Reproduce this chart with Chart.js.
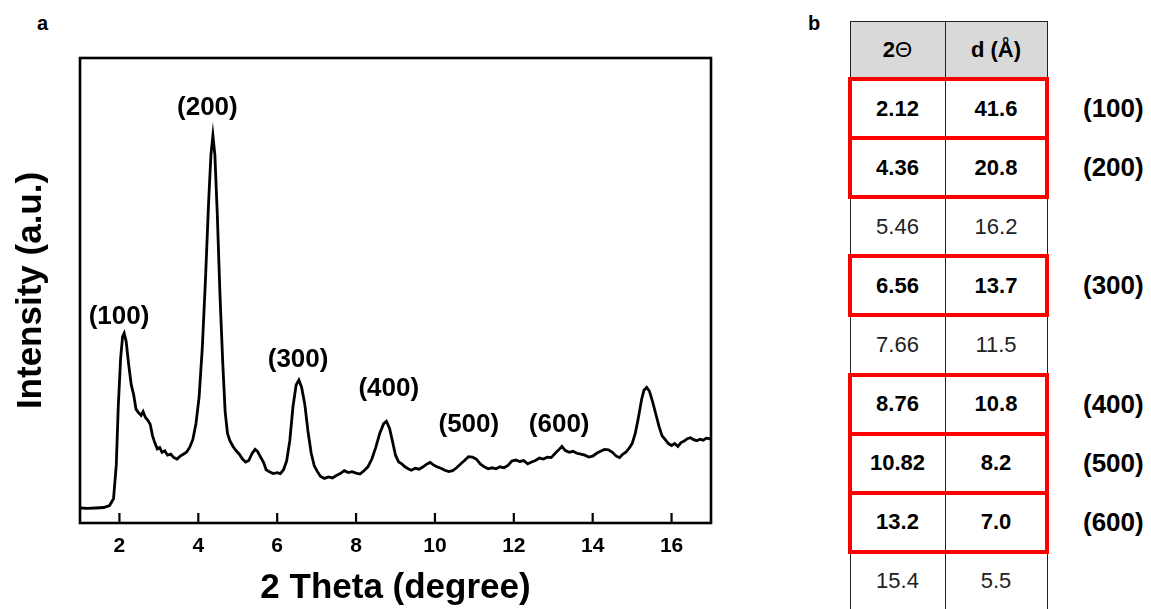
<!DOCTYPE html>
<html>
<head>
<meta charset="utf-8">
<script src="https://cdn.jsdelivr.net/npm/chart.js@4"></script>
<style>
  html,body{margin:0;padding:0;background:#fff;}
  body{width:1151px;height:609px;position:relative;overflow:hidden;font-family:"Liberation Sans",Arial,sans-serif;}
  #chart-box{position:absolute;left:0;top:0;width:800px;height:609px;}
  .panel{position:absolute;font-weight:bold;font-size:20px;color:#000;line-height:1;}
  .cell{position:absolute;display:flex;align-items:center;justify-content:center;font-size:22px;color:#000;}
  .vline{position:absolute;width:1px;background:#222;}
  .hline{position:absolute;height:1px;background:#222;}
  .redbox{position:absolute;border:4px solid #ff0000;box-sizing:border-box;}
  .hkl{position:absolute;font-size:26px;font-weight:bold;display:flex;align-items:center;}
</style>
</head>
<body>
<div class="panel" style="left:37px;top:13px;">a</div>
<div class="panel" style="left:808px;top:13px;">b</div>
<div id="chart-box"><canvas id="xrd"></canvas></div>
<div id="tbl"></div>
<script>
// XRD 패턴 (2θ vs 강도) — 그림에서 눈으로 읽은 값
const twoTheta = [1.0,1.2,1.4,1.6,1.75,1.85,1.92,1.97,2.03,2.08,2.12,2.17,2.23,2.3,2.36,2.42,2.48,2.55,2.6,2.66,
  2.72,2.78,2.84,2.9,2.96,3.02,3.08,3.15,3.22,3.3,3.38,3.46,3.54,3.62,3.7,3.78,3.86,3.94,4.02,4.1,
  4.18,4.26,4.32,4.37,4.42,4.48,4.55,4.62,4.68,4.74,4.8,4.88,4.96,5.04,5.12,5.2,5.28,5.36,5.44,5.5,
  5.58,5.66,5.72,5.8,5.9,6.0,6.08,6.16,6.24,6.32,6.4,6.48,6.55,6.62,6.7,6.78,6.86,6.94,7.02,7.1,
  7.2,7.3,7.4,7.5,7.6,7.7,7.8,7.9,8.0,8.1,8.2,8.3,8.4,8.5,8.6,8.7,8.77,8.85,8.92,9.0,
  9.08,9.16,9.24,9.32,9.4,9.5,9.6,9.7,9.8,9.88,9.96,10.05,10.15,10.25,10.35,10.45,10.55,10.65,10.75,10.85,
  10.95,11.05,11.15,11.25,11.35,11.45,11.55,11.65,11.75,11.85,11.95,12.05,12.15,12.25,12.35,12.45,12.55,12.65,12.75,12.85,
  12.95,13.05,13.15,13.22,13.3,13.4,13.5,13.6,13.7,13.8,13.9,14.0,14.1,14.2,14.3,14.4,14.5,14.6,14.68,14.76,
  14.84,14.92,15.0,15.08,15.16,15.24,15.3,15.37,15.44,15.52,15.6,15.68,15.76,15.84,15.92,16.0,16.08,16.16,16.24,16.32,
  16.4,16.48,16.56,16.64,16.72,16.8,16.88,16.96,17.0];
const intensity = [3.1,3.0,3.1,3.2,3.6,5,12,24,34,38.5,39.2,37.5,33,28.5,26.5,23.5,22.8,22.2,23.0,21.8,
  21.2,20.4,18,16.5,15.3,15.6,14.6,14.9,14.0,14.2,13.5,13.2,13.8,14.2,14.6,15.6,17.2,20.5,26,36,
  50,66,76,80,76,64,47,33,23,18.5,17,15.8,14.9,14.2,13.2,12.6,12.9,14.3,15.2,14.8,
  13.6,12.4,11.0,10.6,10.2,10.4,10.2,11.0,12.8,17,24,28.5,29.5,28,24.5,19,14.5,11.8,10.6,9.6,
  9.2,9.5,9.3,9.8,10.2,10.8,10.4,10.6,10.3,10.1,10.8,11.6,13.2,15.6,18.5,20.5,21,19.5,17,14,
  12.6,12.2,11.6,11.2,10.9,11.3,11.1,11.6,12.2,12.5,12.0,11.6,11.3,10.9,10.6,10.8,11.4,12.2,12.9,13.7,
  13.6,13.2,12.2,11.6,11.2,11.4,11.2,11.6,11.4,11.9,12.8,13.0,12.7,12.9,12.2,12.6,12.9,13.4,13.2,13.6,
  13.5,14.4,15.2,15.8,15.0,14.6,14.8,14.4,14.2,14.0,13.6,13.8,14.4,14.8,15.2,15.1,14.6,13.8,13.5,14.2,
  14.6,15.4,16.4,18.5,21.8,25.5,27.4,28,27.2,25,22.5,20,18,17.2,16.4,16.0,16.4,15.8,16.6,16.9,
  17.4,17.6,17.2,17.0,17.3,17.1,17.5,17.4,17.3];

// 피크 라벨 (hkl) 위치
const peakNames = ["(100)","(200)","(300)","(400)","(500)","(600)"];
const peakLabelX = [1.99, 4.23, 6.53, 8.83, 10.86, 13.15];
const peakLabelY = [42.5, 85.8, 33.6, 27.6, 20.2, 20.2];

const xTicks = [2,4,6,8,10,12,14,16];

// 오른쪽 표 데이터
const tblTheta = ["2.12","4.36","5.46","6.56","7.66","8.76","10.82","13.2","15.4"];
const tblD     = ["41.6","20.8","16.2","13.7","11.5","10.8","8.2","7.0","5.5"];
const tblHkl   = ["(100)","(200)","","(300)","","(400)","(500)","(600)",""];

const FONT = '"Liberation Sans", Arial, sans-serif';

// 프레임 + 안쪽 눈금 + hkl 라벨
const framePlugin = {
  id: "frame",
  afterDatasetsDraw(chart){
    const {ctx, chartArea:a, scales:{x, y}} = chart;
    ctx.save();
    ctx.strokeStyle = "#000";
    ctx.lineWidth = 2.6;
    ctx.strokeRect(a.left, a.top, a.right - a.left, a.bottom - a.top);
    ctx.lineWidth = 2.2;
    x.ticks.forEach(t => {
      const px = x.getPixelForValue(t.value);
      ctx.beginPath(); ctx.moveTo(px, a.bottom); ctx.lineTo(px, a.bottom - 10); ctx.stroke();
    });
    ctx.fillStyle = "#000";
    ctx.font = "bold 26px " + FONT;
    ctx.textAlign = "center";
    ctx.textBaseline = "middle";
    peakNames.forEach((n, i) => {
      ctx.fillText(n, x.getPixelForValue(peakLabelX[i]), y.getPixelForValue(peakLabelY[i]));
    });
    ctx.restore();
  }
};

new Chart(document.getElementById("xrd"), {
  type: "line",
  data: {
    datasets: [{
      data: twoTheta.map((v, i) => ({x: v, y: intensity[i]})),
      borderColor: "#000",
      borderWidth: 2.8,
      pointRadius: 0,
      tension: 0,
      fill: false
    }]
  },
  options: {
    responsive: true,
    maintainAspectRatio: false,
    animation: false,
    layout: { padding: { top: 58, right: 89, left: 0, bottom: 0 } },
    plugins: { legend: {display: false}, tooltip: {enabled: false} },
    scales: {
      x: {
        type: "linear", min: 1, max: 17,
        afterFit: s => { s.height = 86; },
        afterBuildTicks: s => { s.ticks = xTicks.map(v => ({value: v})); },
        grid: { display: false, drawTicks: false, tickLength: 0 },
        border: { display: false },
        ticks: { color: "#000", padding: 11, font: { family: FONT, size: 21, weight: "bold" } },
        title: { display: true, text: "2 Theta (degree)", color: "#000",
                 padding: { top: 0, bottom: 0 }, font: { family: FONT, size: 35, weight: "bold" } }
      },
      y: {
        min: 0, max: 96,
        afterFit: s => { s.width = 80; },
        grid: { display: false, drawTicks: false, tickLength: 0 },
        border: { display: false },
        ticks: { display: false },
        title: { display: true, text: "Intensity (a.u.)", color: "#000",
                 padding: { top: 10, bottom: 0 }, font: { family: FONT, size: 35, weight: "bold" } }
      }
    }
  },
  plugins: [framePlugin]
});

// 표 그리기
(function(){
  const $t = document.getElementById("tbl");
  const L = 850, M = 945, R = 1047, TOP = 21, HEAD_B = 79, ROW_H = 59.1;
  const add = (cls, style, html) => {
    const d = document.createElement("div");
    d.className = cls; d.setAttribute("style", style);
    if (html !== undefined) d.innerHTML = html;
    $t.appendChild(d); return d;
  };
  add("", `position:absolute;left:${L}px;top:${TOP}px;width:${R-L}px;height:${HEAD_B-TOP}px;background:#d9d9d9;`);
  add("cell", `left:${L}px;top:${TOP}px;width:${M-L}px;height:${HEAD_B-TOP}px;font-weight:bold;`, '2<span style="font-weight:normal">Θ</span>');
  add("cell", `left:${M}px;top:${TOP}px;width:${R-M}px;height:${HEAD_B-TOP}px;font-weight:bold;`, "d (Å)");
  add("hline", `left:${L}px;top:${TOP}px;width:${R-L+1}px;`);
  add("hline", `left:${L}px;top:${HEAD_B}px;width:${R-L+1}px;`);
  [L, M, R].forEach(x => add("vline", `left:${x}px;top:${TOP}px;height:${609-TOP}px;`));
  tblTheta.forEach((th, i) => {
    const top = HEAD_B + i * ROW_H;
    const hi = tblHkl[i] !== "";
    const w = hi ? "bold" : "normal";
    const c = hi ? "#000" : "#222";
    add("hline", `left:${L}px;top:${Math.round(top + ROW_H)}px;width:${R-L+1}px;`);
    add("cell", `left:${L}px;top:${top}px;width:${M-L}px;height:${ROW_H}px;font-weight:${w};color:${c};`, th);
    add("cell", `left:${M}px;top:${top}px;width:${R-M}px;height:${ROW_H}px;font-weight:${w};color:${c};`, tblD[i]);
    if (hi) {
      add("redbox", `left:${L-2}px;top:${top-2}px;width:${R-L+4}px;height:${ROW_H+4}px;`);
      add("hkl", `left:1083px;top:${top}px;height:${ROW_H}px;`, tblHkl[i]);
    }
  });
})();
</script>
</body>
</html>
